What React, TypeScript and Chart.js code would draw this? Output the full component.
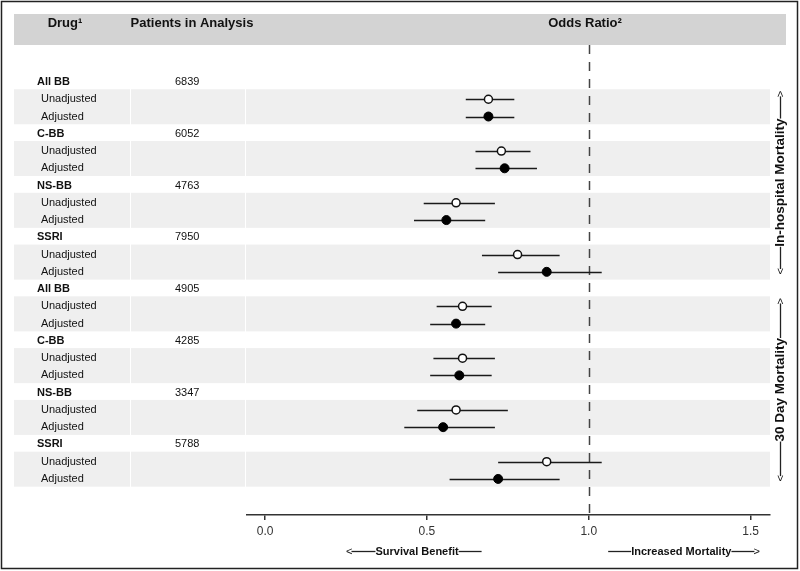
import React, { useEffect, useRef } from "react";
import { Chart, registerables } from "chart.js";
Chart.register(...registerables);

// ---------------- DATA ----------------
const outcomes = ["In-hospital Mortality", "30 Day Mortality"];
const drugs = ["All BB", "C-BB", "NS-BB", "SSRI"];
const estimateTypes = ["Unadjusted", "Adjusted"];
const patientsInHospital = [6839, 6052, 4763, 7950];
const patients30Day = [4905, 4285, 3347, 5788];

const inHospitalUnadjOR = [0.69, 0.73, 0.59, 0.78];
const inHospitalUnadjLo = [0.62, 0.65, 0.49, 0.67];
const inHospitalUnadjHi = [0.77, 0.82, 0.71, 0.91];
const inHospitalAdjOR = [0.69, 0.74, 0.56, 0.87];
const inHospitalAdjLo = [0.62, 0.65, 0.46, 0.72];
const inHospitalAdjHi = [0.77, 0.84, 0.68, 1.04];

const day30UnadjOR = [0.61, 0.61, 0.59, 0.87];
const day30UnadjLo = [0.53, 0.52, 0.47, 0.72];
const day30UnadjHi = [0.70, 0.71, 0.75, 1.04];
const day30AdjOR = [0.59, 0.60, 0.55, 0.72];
const day30AdjLo = [0.51, 0.51, 0.43, 0.57];
const day30AdjHi = [0.68, 0.70, 0.71, 0.91];

const xTicks = [0.0, 0.5, 1.0, 1.5];
const referenceOR = 1.0;
const headerLabels = ["Drug¹", "Patients in Analysis", "Odds Ratio²"];
const bottomLeftLabel = "Survival Benefit";
const bottomRightLabel = "Increased Mortality";

// ---------------- ROWS ----------------
type Row = {
  index: number;
  kind: "drug" | "est";
  label: string;
  patients?: number;
  or?: number;
  lo?: number;
  hi?: number;
  adjusted?: boolean;
};

const outcomeData = [
  { patients: patientsInHospital, u: [inHospitalUnadjOR, inHospitalUnadjLo, inHospitalUnadjHi], a: [inHospitalAdjOR, inHospitalAdjLo, inHospitalAdjHi] },
  { patients: patients30Day, u: [day30UnadjOR, day30UnadjLo, day30UnadjHi], a: [day30AdjOR, day30AdjLo, day30AdjHi] },
];

const rows: Row[] = [];
outcomeData.forEach((od) => {
  drugs.forEach((d, di) => {
    rows.push({ index: rows.length, kind: "drug", label: d, patients: od.patients[di] });
    rows.push({ index: rows.length, kind: "est", label: estimateTypes[0], or: od.u[0][di], lo: od.u[1][di], hi: od.u[2][di], adjusted: false });
    rows.push({ index: rows.length, kind: "est", label: estimateTypes[1], or: od.a[0][di], lo: od.a[1][di], hi: od.a[2][di], adjusted: true });
  });
});

const FONT = "'Liberation Sans', Arial, sans-serif";
const TEXT = "#111";

function drawArrowLabel(
  ctx: CanvasRenderingContext2D,
  text: string,
  start: number,
  cross: number,
  lineL: number,
  lineR: number,
  arrowL: boolean,
  arrowR: boolean,
  rotated: boolean,
  size: number
) {
  ctx.save();
  if (rotated) {
    ctx.translate(cross, start);
    ctx.rotate(-Math.PI / 2);
  } else {
    ctx.translate(start, cross);
  }
  ctx.fillStyle = TEXT;
  ctx.strokeStyle = "#222";
  ctx.lineWidth = 1.3;
  ctx.textBaseline = "middle";
  ctx.textAlign = "left";
  let x = 0;
  if (arrowL) {
    ctx.font = `11px ${FONT}`;
    ctx.fillText("<", x, 0.5);
    x += ctx.measureText("<").width - 1;
  }
  ctx.beginPath();
  ctx.moveTo(x, 0.5);
  ctx.lineTo(x + lineL, 0.5);
  ctx.stroke();
  x += lineL;
  ctx.font = `bold ${size}px ${FONT}`;
  ctx.fillText(text, x, 0.5);
  x += ctx.measureText(text).width;
  ctx.beginPath();
  ctx.moveTo(x, 0.5);
  ctx.lineTo(x + lineR, 0.5);
  ctx.stroke();
  x += lineR;
  if (arrowR) {
    ctx.font = `11px ${FONT}`;
    ctx.fillText(">", x - 1, 0.5);
  }
  ctx.restore();
}

const tablePlugin = {
  id: "forestTable",
  beforeDraw(chart: any) {
    const ctx: CanvasRenderingContext2D = chart.ctx;
    const y = chart.scales.y;
    ctx.save();
    ctx.fillStyle = "#ffffff";
    ctx.fillRect(0, 0, chart.width, chart.height);
    // header band
    ctx.fillStyle = "#d3d3d3";
    ctx.fillRect(14, 14, 772, 31);
    // grey bands behind estimate pairs
    ctx.fillStyle = "#efefef";
    rows.forEach((r) => {
      if (r.kind === "drug") {
        const top = y.getPixelForValue(r.index + 0.42);
        const bot = y.getPixelForValue(r.index + 2.45);
        ctx.fillRect(14, top, 116, bot - top);
        ctx.fillRect(131, top, 114, bot - top);
        ctx.fillRect(246, top, 524, bot - top);
      }
    });
    // header texts
    ctx.fillStyle = TEXT;
    ctx.font = `bold 13px ${FONT}`;
    ctx.textBaseline = "middle";
    ctx.textAlign = "center";
    ctx.fillText(headerLabels[0], 65, 23);
    ctx.fillText(headerLabels[1], 192, 23);
    ctx.fillText(headerLabels[2], 585, 23);
    ctx.restore();
  },
  beforeDatasetsDraw(chart: any) {
    const ctx: CanvasRenderingContext2D = chart.ctx;
    const x = chart.scales.x;
    const y = chart.scales.y;
    const ca = chart.chartArea;
    ctx.save();
    const xr = Math.round(x.getPixelForValue(referenceOR)) + 0.5;
    ctx.strokeStyle = "#444";
    ctx.lineWidth = 1.5;
    ctx.setLineDash([9, 8]);
    ctx.beginPath();
    ctx.moveTo(xr, ca.top);
    ctx.lineTo(xr, ca.bottom);
    ctx.stroke();
    ctx.setLineDash([]);
    ctx.strokeStyle = "#1a1a1a";
    ctx.lineWidth = 1.5;
    rows.forEach((r) => {
      if (r.kind === "est") {
        const py = Math.round(y.getPixelForValue(r.index)) + 0.5;
        ctx.beginPath();
        ctx.moveTo(x.getPixelForValue(r.lo), py);
        ctx.lineTo(x.getPixelForValue(r.hi), py);
        ctx.stroke();
      }
    });
    ctx.restore();
  },
  afterDraw(chart: any) {
    const ctx: CanvasRenderingContext2D = chart.ctx;
    const x = chart.scales.x;
    const y = chart.scales.y;
    ctx.save();
    ctx.fillStyle = TEXT;
    ctx.textBaseline = "middle";
    ctx.textAlign = "left";
    rows.forEach((r) => {
      const py = y.getPixelForValue(r.index);
      if (r.kind === "drug") {
        ctx.font = `bold 11px ${FONT}`;
        ctx.fillText(r.label, 37, py);
        ctx.font = `11px ${FONT}`;
        ctx.fillText(String(r.patients), 175, py);
      } else {
        ctx.font = `11px ${FONT}`;
        ctx.fillText(r.label, 41, py);
      }
    });
    ctx.restore();

    // side labels
    const groupRows = drugs.length * 3;
    const sideSize = 13.5;
    outcomes.forEach((o, gi) => {
      const topPx = y.getPixelForValue(gi * groupRows + 0.45);
      const botPx = y.getPixelForValue(gi * groupRows + groupRows - 0.85);
      ctx.save();
      ctx.font = `bold ${sideSize}px ${FONT}`;
      const tw = ctx.measureText(o).width;
      ctx.restore();
      const total = botPx - topPx;
      const line = (total - tw - 12) / 2;
      drawArrowLabel(ctx, o, botPx, 780, line, line, true, true, true, sideSize);
    });

    // bottom labels
    const by = 551;
    drawArrowLabel(ctx, bottomLeftLabel, x.getPixelForValue(0.25), by, 24, 23, true, false, false, 11);
    drawArrowLabel(ctx, bottomRightLabel, x.getPixelForValue(1.06), by, 23, 23, false, true, false, 11);

    ctx.save();
    ctx.strokeStyle = "#222";
    ctx.lineWidth = 1.5;
    ctx.strokeRect(1.5, 1.5, 796, 567);
    ctx.restore();
  },
};

export default function App() {
  const ref = useRef<HTMLCanvasElement>(null);
  useEffect(() => {
    const canvas = ref.current!;
    const unadj = rows.filter((r) => r.kind === "est" && !r.adjusted).map((r) => ({ x: r.or as number, y: r.index }));
    const adj = rows.filter((r) => r.kind === "est" && r.adjusted).map((r) => ({ x: r.or as number, y: r.index }));
    const chart = new Chart(canvas, {
      type: "scatter",
      data: {
        datasets: [
          {
            label: estimateTypes[0],
            data: unadj,
            pointRadius: 4,
            pointBackgroundColor: "#ffffff",
            pointBorderColor: "#111",
            pointBorderWidth: 1.5,
          },
          {
            label: estimateTypes[1],
            data: adj,
            pointRadius: 4.5,
            pointBackgroundColor: "#000",
            pointBorderColor: "#000",
            pointBorderWidth: 1,
          },
        ],
      },
      options: {
        responsive: false,
        animation: false,
        events: [],
        layout: { padding: { left: 247, right: 30, top: 45, bottom: 0 } },
        plugins: { legend: { display: false }, tooltip: { enabled: false } },
        scales: {
          x: {
            type: "linear",
            min: -0.056,
            max: 1.56,
            afterBuildTicks: (s: any) => {
              s.ticks = xTicks.map((v) => ({ value: v }));
            },
            afterFit: (s: any) => {
              s.height = 56;
            },
            ticks: {
              callback: (v: any) => Number(v).toFixed(1),
              font: { family: FONT, size: 12 },
              color: "#333",
              padding: 4,
              autoSkip: false,
              maxRotation: 0,
            },
            grid: { drawOnChartArea: false, drawTicks: true, tickLength: 5, color: "#333", lineWidth: 1.5 },
            border: { display: true, color: "#333", width: 1.5 },
          },
          y: {
            type: "linear",
            display: false,
            reverse: true,
            min: -2.144,
            max: 25.09,
          },
        },
      },
      plugins: [tablePlugin],
    } as any);
    return () => chart.destroy();
  }, []);
  return (
    <div style={{ position: "fixed", left: 0, top: 0, width: 800, height: 571, background: "#fff" }}>
      <canvas ref={ref} width={800} height={571} style={{ display: "block", width: 800, height: 571 }} />
    </div>
  );
}
